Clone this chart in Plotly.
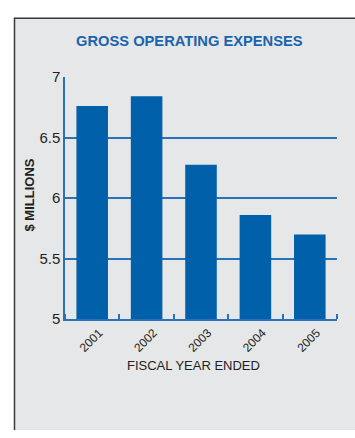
import plotly.graph_objects as go

years = [2001, 2002, 2003, 2004, 2005]
year_labels = ["2001", "2002", "2003", "2004", "2005"]
expenses = [6.76, 6.84, 6.275, 5.86, 5.70]
y_ticks = [5, 5.5, 6, 6.5, 7]
y_tick_labels = ["5", "5.5", "6", "6.5", "7"]

W, H = 355, 438
BLUE = "#0060aa"
GRID = "#2a72b8"
BG = "#e6e7e9"
FONT = "Liberation Sans Narrow, Arial Narrow, Liberation Sans, Arial, sans-serif"

def px(x):
    return x / W

def py(y):
    return 1 - y / H

fig = go.Figure()
fig.add_trace(go.Bar(x=years, y=expenses, marker=dict(color=BLUE, line=dict(width=0)),
                     width=0.58, hoverinfo="skip"))

fig.update_layout(
    width=W, height=H, autosize=False,
    margin=dict(l=0, r=0, t=0, b=0),
    paper_bgcolor="white", plot_bgcolor="rgba(0,0,0,0)",
    showlegend=False,
    font=dict(family=FONT, color="#231f20"),
    xaxis=dict(
        domain=[px(65), px(337)], range=[2000.5, 2005.5],
        tickvals=years, ticktext=year_labels, tickangle=-45,
        ticks="", showgrid=False, zeroline=False,
        showline=True, linecolor=GRID, linewidth=2,
        ticklabelshift=7, ticklabelstandoff=0,
        tickfont=dict(size=12, family=FONT, color="#231f20"),
        minor=dict(tickvals=[2000.5, 2001.5, 2002.5, 2003.5, 2004.5, 2005.5],
                   ticks="inside", ticklen=5, tickcolor=GRID, tickwidth=1.5, showgrid=False),
        fixedrange=True,
    ),
    yaxis=dict(
        domain=[py(322.7), py(70.7)], range=[5, 7],
        tickvals=y_ticks, ticktext=y_tick_labels,
        ticks="", showgrid=True, gridcolor=GRID, gridwidth=1.5,
        zeroline=False, showline=True, linecolor=GRID, linewidth=1.5,
        tickfont=dict(size=15, family=FONT, color="#231f20"),
        fixedrange=True,
    ),
    shapes=[
        dict(type="rect", xref="paper", yref="paper", x0=px(14), x1=1, y0=0, y1=py(9),
             fillcolor=BG, line=dict(width=0), layer="below"),
        dict(type="line", xref="paper", yref="paper", x0=px(14.5), x1=px(14.5), y0=0, y1=py(9),
             line=dict(color="#3a3a3a", width=1.5), layer="below"),
        dict(type="line", xref="paper", yref="paper", x0=px(14), x1=1, y0=py(9.5), y1=py(9.5),
             line=dict(color="#3a3a3a", width=1.5), layer="below"),
    ],
    annotations=[
        dict(text="<b>GROSS OPERATING EXPENSES</b>", xref="paper", yref="paper",
             x=px(190), y=py(33), xanchor="center", yanchor="middle", showarrow=False,
             font=dict(size=14.7, color="#1a64ad", family=FONT)),
        dict(text="<b>$ MILLIONS</b>", xref="paper", yref="paper",
             x=px(29), y=py(194), xanchor="center", yanchor="middle", showarrow=False,
             textangle=-90, font=dict(size=13, color="#231f20", family=FONT)),
        dict(text="FISCAL YEAR ENDED", xref="paper", yref="paper",
             x=px(193), y=py(371), xanchor="center", yanchor="middle", showarrow=False,
             font=dict(size=13, color="#231f20", family=FONT)),
    ],
)

fig.write_html("out.html")
